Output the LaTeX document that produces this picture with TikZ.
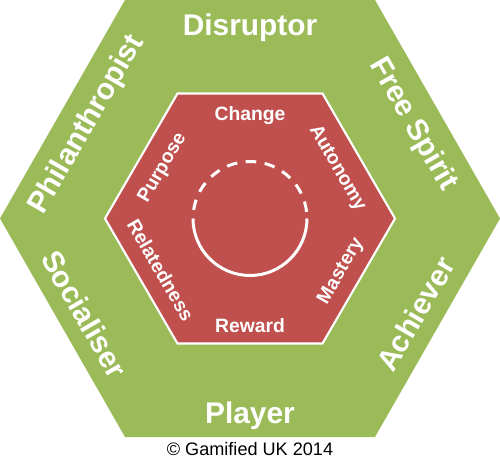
\documentclass[tikz,border=0pt]{standalone}
\usepackage{fontspec}
\setmainfont{Liberation Sans}
\definecolor{hexgreen}{HTML}{9BBB59}
\definecolor{hexred}{HTML}{C0504D}
\tikzset{
  typelbl/.style={text=white, font=\fontsize{17}{20}\selectfont\bfseries, text height=12.2pt, text depth=0pt, inner sep=0pt},
  motlbl/.style={text=white, font=\fontsize{11}{13}\selectfont\bfseries, text height=7.9pt, text depth=0pt, inner sep=0pt},
  ring/.style={draw=white, line width=1.7pt},
}
\begin{document}
\begin{tikzpicture}[x=0.02cm, y=0.02cm]
\useasboundingbox (-250,-240.5) rectangle (250,218.5);

% outer hexagon (user types)
\fill[hexgreen] (-250,0) -- (-125,218.5) -- (125,218.5) -- (250,0) -- (125,-218.5) -- (-125,-218.5) -- cycle;
% inner hexagon (motivations)
\filldraw[fill=hexred, draw=white, line width=1.2pt] (-145,0) -- (-72.5,125) -- (72.5,125) -- (145,0) -- (72.5,-125) -- (-72.5,-125) -- cycle;

% centre ring
\draw[ring] (-57,0) arc (180:360:57);
\draw[ring, dash pattern=on 6pt off 4.9pt, dash phase=6pt] (-57,0) arc (180:0:57);

% user types
\node[typelbl] (disruptor) at (90:194) {Disruptor};
\node[typelbl, rotate=-60] (freespirit) at (30:191) {Free Spirit};
\node[typelbl, rotate=60] (achiever) at (-30:191) {Achiever};
\node[typelbl] (player) at (-90:194) {Player};
\node[typelbl, rotate=-60] (socialiser) at (-150:191) {Socialiser};
\node[typelbl, rotate=60] (philanthropist) at (150:191) {Philanthropist};

% motivations
\node[motlbl] (change) at (90:105) {Change};
\node[motlbl, rotate=-60] (autonomy) at (30:103) {Autonomy};
\node[motlbl, rotate=60] (mastery) at (-30:103) {Mastery};
\node[motlbl] (reward) at (-90:107) {Reward};
\node[motlbl, rotate=-60] (relatedness) at (-150:103) {Relatedness};
\node[motlbl, rotate=60] (purpose) at (150:103) {Purpose};

\node[font=\fontsize{10.3}{12}\selectfont, inner sep=0pt] (copyright) at (0,-230.5) {© Gamified UK 2014};
\end{tikzpicture}
\end{document}
